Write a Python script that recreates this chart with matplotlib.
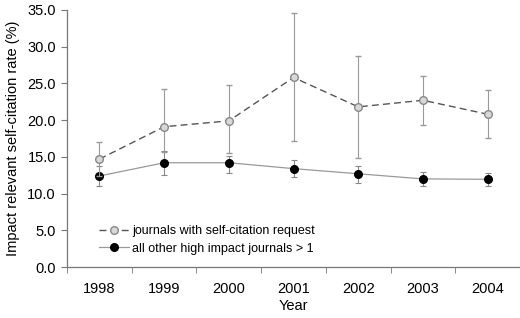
import matplotlib
matplotlib.use("Agg")
import matplotlib.pyplot as plt
from matplotlib.lines import Line2D
import numpy as np

plt.rcParams['font.family'] = ['Liberation Sans', 'DejaVu Sans']

years = [1998, 1999, 2000, 2001, 2002, 2003, 2004]

# journals with self-citation request
req_mean = [14.7, 19.1, 19.9, 25.8, 21.8, 22.7, 20.8]
req_upper = [17.0, 24.2, 24.8, 34.6, 28.7, 26.0, 24.1]
req_lower = [12.4, 15.6, 15.5, 17.1, 14.9, 19.3, 17.5]

# all other high impact journals
oth_mean = [12.4, 14.2, 14.2, 13.4, 12.7, 12.0, 11.95]
oth_upper = [13.8, 15.8, 15.1, 14.6, 13.8, 12.9, 12.85]
oth_lower = [11.0, 12.6, 12.8, 12.3, 11.5, 11.0, 11.0]

fig = plt.figure(figsize=(5.2, 3.18), dpi=100)
ax = fig.add_axes([0.129, 0.160, 0.871, 0.809])

x = np.array(years)
err1 = [np.array(req_mean) - np.array(req_lower), np.array(req_upper) - np.array(req_mean)]
err2 = [np.array(oth_mean) - np.array(oth_lower), np.array(oth_upper) - np.array(oth_mean)]

s2 = dict(color='#999999', lw=0.9, marker='o', ms=5.5, mfc='black', mec='black')
s1 = dict(color='#555555', lw=1.0, ls=(0, (5, 3)), marker='o', ms=5.5,
          mfc='#d8d8d8', mec='#888888', mew=1.0)

ax.errorbar(x, oth_mean, yerr=err2, ecolor='#888888', elinewidth=0.8,
            capsize=2.2, capthick=0.8, zorder=3, **s2)
ax.errorbar(x, req_mean, yerr=err1, ecolor='#999999', elinewidth=0.8,
            capsize=2.2, capthick=0.8, zorder=4, **s1)

ax.set_xlim(1997.5, 2004.5)
ax.set_ylim(0, 35)
ax.set_yticks(np.arange(0, 36, 5))
ax.set_yticklabels(['%.1f' % v for v in np.arange(0, 36, 5)], fontsize=10.5)
ax.set_xticks(years)
ax.set_xticklabels([str(y) for y in years], fontsize=10.5)
ax.set_xticks(np.arange(1997.5, 2005, 1), minor=True)
ax.tick_params(axis='x', which='major', length=0, pad=11)
ax.tick_params(axis='x', which='minor', length=4, color='#777777', direction='out')
ax.tick_params(axis='y', length=4, color='#777777', direction='out', pad=4)

for s in ['top', 'right']:
    ax.spines[s].set_visible(False)
for s in ['left', 'bottom']:
    ax.spines[s].set_color('#777777')
    ax.spines[s].set_linewidth(0.9)

ax.set_xlabel('Year', fontsize=10.5, labelpad=2)
ax.set_ylabel('Impact relevant self-citation rate (%)', fontsize=10.5, labelpad=5)

handles = [Line2D([], [], **s1), Line2D([], [], **s2)]
labels = ['journals with self-citation request', 'all other high impact journals > 1']
ax.legend(handles, labels, loc='lower left', bbox_to_anchor=(0.045, 0.005),
          frameon=False, fontsize=9, handlelength=2.4, handletextpad=0.3,
          labelspacing=0.45)

fig.savefig('out.png', dpi=100)
